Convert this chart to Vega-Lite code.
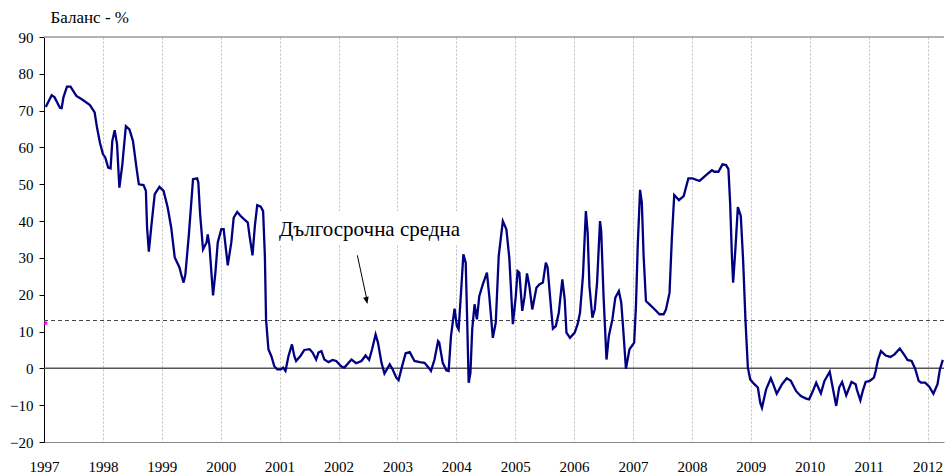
{
  "$schema": "https://vega.github.io/schema/vega-lite/v6.json",
  "width": 900,
  "height": 405,
  "autosize": "none",
  "padding": {"left": 44, "top": 37, "right": 1, "bottom": 33},
  "background": "white",
  "config": {
    "view": {"stroke": null}
  },
  "data": {"values": [
    {"t":1997.03,"v":71.0},{"t":1997.13,"v":74.2},{"t":1997.18,"v":73.6},{"t":1997.27,"v":70.8},{"t":1997.30,"v":70.7},{"t":1997.33,"v":73.6},{"t":1997.39,"v":76.5},{"t":1997.45,"v":76.5},{"t":1997.55,"v":74.0},{"t":1997.66,"v":72.9},{"t":1997.78,"v":71.5},{"t":1997.86,"v":69.5},{"t":1997.90,"v":65.4},{"t":1997.95,"v":61.3},{"t":1998.00,"v":58.2},{"t":1998.04,"v":57.3},{"t":1998.09,"v":54.5},{"t":1998.13,"v":54.3},{"t":1998.16,"v":61.8},{"t":1998.20,"v":64.7},{"t":1998.24,"v":60.9},{"t":1998.28,"v":49.1},{"t":1998.33,"v":55.4},{"t":1998.39,"v":65.8},{"t":1998.45,"v":64.9},{"t":1998.51,"v":61.8},{"t":1998.57,"v":54.5},{"t":1998.61,"v":50.0},{"t":1998.69,"v":49.8},{"t":1998.73,"v":48.2},{"t":1998.75,"v":38.2},{"t":1998.78,"v":31.7},{"t":1998.82,"v":38.2},{"t":1998.88,"v":47.3},{"t":1998.96,"v":49.3},{"t":1999.03,"v":48.2},{"t":1999.10,"v":43.7},{"t":1999.16,"v":38.2},{"t":1999.22,"v":30.1},{"t":1999.30,"v":27.4},{"t":1999.33,"v":25.5},{"t":1999.37,"v":23.3},{"t":1999.40,"v":25.5},{"t":1999.46,"v":36.4},{"t":1999.53,"v":51.4},{"t":1999.60,"v":51.6},{"t":1999.62,"v":50.5},{"t":1999.65,"v":42.0},{"t":1999.70,"v":32.3},{"t":1999.76,"v":34.2},{"t":1999.78,"v":36.4},{"t":1999.81,"v":33.2},{"t":1999.87,"v":19.8},{"t":1999.91,"v":26.0},{"t":1999.95,"v":34.2},{"t":2000.01,"v":37.8},{"t":2000.05,"v":37.8},{"t":2000.12,"v":28.0},{"t":2000.18,"v":34.2},{"t":2000.22,"v":40.9},{"t":2000.28,"v":42.5},{"t":2000.35,"v":41.2},{"t":2000.41,"v":40.3},{"t":2000.46,"v":39.6},{"t":2000.49,"v":36.0},{"t":2000.54,"v":30.7},{"t":2000.58,"v":38.7},{"t":2000.62,"v":44.3},{"t":2000.68,"v":43.9},{"t":2000.72,"v":42.7},{"t":2000.75,"v":30.5},{"t":2000.77,"v":13.3},{"t":2000.81,"v":5.2},{"t":2000.86,"v":3.3},{"t":2000.91,"v":0.6},{"t":2000.96,"v":-0.3},{"t":2001.02,"v":-0.3},{"t":2001.06,"v":0.2},{"t":2001.10,"v":-0.7},{"t":2001.15,"v":3.3},{"t":2001.21,"v":6.5},{"t":2001.25,"v":3.3},{"t":2001.28,"v":2.0},{"t":2001.36,"v":3.5},{"t":2001.42,"v":5.0},{"t":2001.51,"v":5.2},{"t":2001.56,"v":4.3},{"t":2001.62,"v":2.4},{"t":2001.66,"v":4.3},{"t":2001.71,"v":4.7},{"t":2001.76,"v":2.4},{"t":2001.83,"v":1.7},{"t":2001.90,"v":2.3},{"t":2001.96,"v":2.0},{"t":2002.05,"v":0.5},{"t":2002.10,"v":0.2},{"t":2002.22,"v":2.4},{"t":2002.30,"v":1.4},{"t":2002.39,"v":2.0},{"t":2002.46,"v":3.5},{"t":2002.52,"v":2.3},{"t":2002.57,"v":5.2},{"t":2002.63,"v":9.2},{"t":2002.67,"v":7.0},{"t":2002.73,"v":1.5},{"t":2002.78,"v":-1.4},{"t":2002.87,"v":1.1},{"t":2002.92,"v":-0.3},{"t":2002.98,"v":-2.5},{"t":2003.02,"v":-3.2},{"t":2003.08,"v":0.6},{"t":2003.14,"v":4.1},{"t":2003.21,"v":4.4},{"t":2003.29,"v":2.0},{"t":2003.38,"v":1.7},{"t":2003.46,"v":1.5},{"t":2003.53,"v":0.2},{"t":2003.57,"v":-0.7},{"t":2003.63,"v":2.4},{"t":2003.69,"v":7.4},{"t":2003.71,"v":7.0},{"t":2003.77,"v":1.5},{"t":2003.83,"v":-0.5},{"t":2003.87,"v":-0.7},{"t":2003.91,"v":8.8},{"t":2003.97,"v":16.2},{"t":2004.01,"v":11.5},{"t":2004.04,"v":10.6},{"t":2004.08,"v":20.6},{"t":2004.12,"v":31.0},{"t":2004.16,"v":28.7},{"t":2004.18,"v":16.0},{"t":2004.21,"v":-3.9},{"t":2004.24,"v":-1.2},{"t":2004.27,"v":10.6},{"t":2004.31,"v":17.4},{"t":2004.35,"v":13.3},{"t":2004.39,"v":19.6},{"t":2004.45,"v":22.8},{"t":2004.52,"v":26.0},{"t":2004.56,"v":19.6},{"t":2004.62,"v":8.3},{"t":2004.67,"v":12.4},{"t":2004.72,"v":30.5},{"t":2004.79,"v":40.0},{"t":2004.85,"v":37.8},{"t":2004.90,"v":30.0},{"t":2004.96,"v":12.0},{"t":2005.01,"v":19.6},{"t":2005.04,"v":26.4},{"t":2005.07,"v":26.0},{"t":2005.12,"v":15.6},{"t":2005.16,"v":19.6},{"t":2005.20,"v":25.8},{"t":2005.24,"v":22.4},{"t":2005.29,"v":16.0},{"t":2005.36,"v":21.9},{"t":2005.41,"v":22.8},{"t":2005.47,"v":23.3},{"t":2005.52,"v":28.7},{"t":2005.55,"v":27.4},{"t":2005.61,"v":16.0},{"t":2005.64,"v":10.8},{"t":2005.69,"v":11.5},{"t":2005.74,"v":15.1},{"t":2005.80,"v":24.2},{"t":2005.84,"v":18.8},{"t":2005.87,"v":9.7},{"t":2005.93,"v":8.3},{"t":2006.01,"v":9.7},{"t":2006.06,"v":12.0},{"t":2006.10,"v":15.1},{"t":2006.15,"v":25.1},{"t":2006.20,"v":42.7},{"t":2006.23,"v":36.9},{"t":2006.26,"v":22.4},{"t":2006.31,"v":13.8},{"t":2006.35,"v":16.0},{"t":2006.39,"v":23.3},{"t":2006.44,"v":40.0},{"t":2006.46,"v":37.3},{"t":2006.50,"v":19.6},{"t":2006.55,"v":2.4},{"t":2006.59,"v":8.8},{"t":2006.65,"v":13.3},{"t":2006.70,"v":19.2},{"t":2006.76,"v":21.0},{"t":2006.80,"v":17.9},{"t":2006.83,"v":11.5},{"t":2006.88,"v":-0.1},{"t":2006.94,"v":5.2},{"t":2007.02,"v":7.0},{"t":2007.05,"v":16.9},{"t":2007.08,"v":33.2},{"t":2007.12,"v":48.5},{"t":2007.15,"v":45.0},{"t":2007.18,"v":30.5},{"t":2007.22,"v":18.3},{"t":2007.28,"v":17.4},{"t":2007.37,"v":16.0},{"t":2007.45,"v":14.7},{"t":2007.52,"v":14.7},{"t":2007.56,"v":16.0},{"t":2007.62,"v":20.5},{"t":2007.66,"v":35.5},{"t":2007.70,"v":47.1},{"t":2007.78,"v":45.7},{"t":2007.86,"v":46.8},{"t":2007.94,"v":51.6},{"t":2008.01,"v":51.6},{"t":2008.13,"v":50.9},{"t":2008.24,"v":52.5},{"t":2008.34,"v":53.8},{"t":2008.38,"v":53.4},{"t":2008.45,"v":53.4},{"t":2008.52,"v":55.4},{"t":2008.58,"v":55.2},{"t":2008.62,"v":54.1},{"t":2008.65,"v":44.6},{"t":2008.68,"v":30.1},{"t":2008.70,"v":23.3},{"t":2008.74,"v":32.8},{"t":2008.78,"v":43.8},{"t":2008.83,"v":41.4},{"t":2008.87,"v":29.2},{"t":2008.91,"v":12.9},{"t":2008.95,"v":0.2},{"t":2008.99,"v":-3.0},{"t":2009.06,"v":-4.3},{"t":2009.12,"v":-5.2},{"t":2009.16,"v":-9.3},{"t":2009.19,"v":-10.7},{"t":2009.26,"v":-5.7},{"t":2009.34,"v":-2.7},{"t":2009.38,"v":-4.3},{"t":2009.44,"v":-6.9},{"t":2009.53,"v":-4.3},{"t":2009.61,"v":-2.7},{"t":2009.68,"v":-3.4},{"t":2009.77,"v":-6.2},{"t":2009.85,"v":-7.5},{"t":2009.94,"v":-8.2},{"t":2009.99,"v":-8.4},{"t":2010.05,"v":-6.3},{"t":2010.11,"v":-3.9},{"t":2010.19,"v":-6.8},{"t":2010.25,"v":-3.4},{"t":2010.34,"v":-0.9},{"t":2010.38,"v":-4.3},{"t":2010.45,"v":-10.2},{"t":2010.50,"v":-5.2},{"t":2010.55,"v":-3.7},{"t":2010.62,"v":-7.3},{"t":2010.71,"v":-3.7},{"t":2010.78,"v":-4.3},{"t":2010.80,"v":-5.7},{"t":2010.86,"v":-8.7},{"t":2010.90,"v":-6.2},{"t":2010.95,"v":-3.7},{"t":2011.02,"v":-3.4},{"t":2011.09,"v":-2.5},{"t":2011.12,"v":-0.7},{"t":2011.16,"v":2.4},{"t":2011.21,"v":4.7},{"t":2011.29,"v":3.5},{"t":2011.37,"v":3.1},{"t":2011.44,"v":3.8},{"t":2011.53,"v":5.4},{"t":2011.60,"v":3.8},{"t":2011.66,"v":2.3},{"t":2011.73,"v":2.0},{"t":2011.79,"v":-0.1},{"t":2011.85,"v":-3.4},{"t":2011.89,"v":-3.9},{"t":2011.96,"v":-3.9},{"t":2012.03,"v":-5.0},{"t":2012.10,"v":-6.9},{"t":2012.17,"v":-4.3},{"t":2012.21,"v":-0.3},{"t":2012.26,"v":2.3}
  ]},
  "encoding": {
    "x": {"field": "t", "type": "quantitative", "scale": {"domain": [1997, 2012.28], "nice": false, "zero": false},
      "axis": {"title": null, "values": [1997,1998,1999,2000,2001,2002,2003,2004,2005,2006,2007,2008,2009,2010,2011,2012], "format": "d", "ticks": false, "labelPadding": 17, "labelBaseline": "top", "labelFont": "Liberation Serif", "labelFontSize": 15, "labelColor": "black", "domainColor": "#888888", "domainWidth": 1, "grid": true, "gridColor": "#bbbbbb", "gridDash": [2, 2], "gridWidth": 1, "labelFlush": false, "labelOverlap": false}},
    "y": {"field": "v", "type": "quantitative", "scale": {"domain": [-20, 90], "nice": false, "zero": false},
      "axis": {"title": "Баланс - %", "titleFont": "Liberation Serif", "titleFontWeight": "normal", "titleColor": "black", "titleAngle": 0, "titleAlign": "left", "titleBaseline": "middle", "titleX": 6, "titleY": -20, "titleFontSize": 17, "values": [-20,-10,0,10,20,30,40,50,60,70,80,90], "grid": false, "domainColor": "black", "domainWidth": 1, "tickColor": "black", "tickSize": 5, "labelPadding": 6, "labelFont": "Liberation Serif", "labelFontSize": 15, "labelColor": "black", "labelOverlap": false}}
  },
  "layer": [
    {"transform": [{"filter": "datum.t === 1997.03"}], "mark": {"type": "rect", "color": "white"}, "encoding": {"x": {"datum": 2000.91}, "x2": {"datum": 2004.14}, "y": {"datum": 42.7}, "y2": {"datum": 33.7}}},
    {"transform": [{"filter": "datum.t === 1997.03"}], "mark": {"type": "rule", "color": "#999999", "strokeWidth": 1.5}, "encoding": {"x": {"datum": 1997}, "x2": {"datum": 2012.28}, "y": {"datum": 90}}},
    {"transform": [{"filter": "datum.t === 1997.03"}], "mark": {"type": "rule", "color": "#555555", "strokeWidth": 1.5}, "encoding": {"x": {"datum": 1997}, "x2": {"datum": 2012.28}, "y": {"datum": 0}}},
    {"transform": [{"filter": "datum.t === 1997.03"}], "mark": {"type": "rule", "color": "#444444", "strokeWidth": 1, "strokeDash": [4, 3]}, "encoding": {"x": {"datum": 1997}, "x2": {"datum": 2012.28}, "y": {"datum": 13}}},
    {"mark": {"type": "line", "color": "#000080", "strokeWidth": 2.3}},
    {"transform": [{"filter": "datum.t === 1997.03"}], "mark": {"type": "point", "shape": "square", "filled": true, "color": "#ff00ff", "size": 10, "opacity": 1}, "encoding": {"x": {"datum": 1997.03}, "y": {"datum": 12.3}}},
    {"transform": [{"filter": "datum.t === 1997.03"}], "mark": {"type": "text", "text": "Дългосрочна средна", "font": "Liberation Serif", "fontSize": 21, "align": "left", "baseline": "alphabetic", "color": "black"}, "encoding": {"x": {"datum": 2000.99}, "y": {"datum": 36.0}}},
    {"transform": [{"filter": "datum.t === 1997.03"}], "mark": {"type": "rule", "color": "black", "strokeWidth": 1}, "encoding": {"x": {"datum": 2002.32}, "y": {"datum": 30.7}, "x2": {"datum": 2002.48}, "y2": {"datum": 18.8}}},
    {"transform": [{"filter": "datum.t === 1997.03"}], "mark": {"type": "point", "shape": "M0,0 L-0.4,-1 L0.4,-1 Z", "filled": true, "color": "black", "size": 196, "angle": 348, "opacity": 1}, "encoding": {"x": {"datum": 2002.49}, "y": {"datum": 17.5}}}
  ]
}
